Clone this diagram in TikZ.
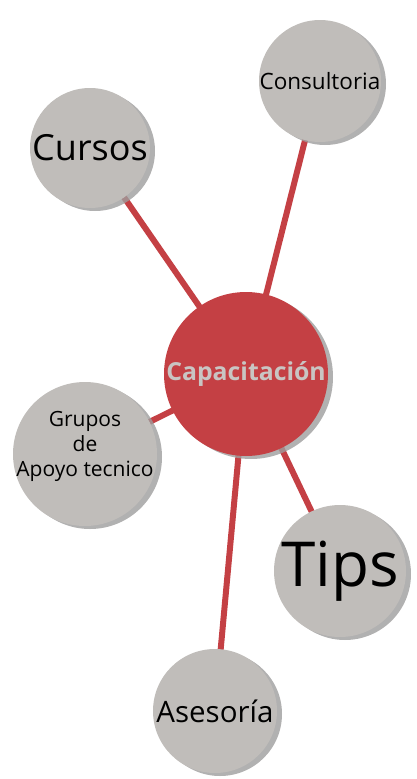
\documentclass[tikz,border=0pt]{standalone}
\usepackage{fontspec}
\setmainfont{Open Sans}
\usetikzlibrary{shadows,backgrounds}

\definecolor{rojo}{HTML}{C44044}
\definecolor{gris}{HTML}{C0BDBA}
\definecolor{sombra}{HTML}{9E9D9D}
\definecolor{letra}{HTML}{C9C5C3}

\tikzset{
  burbuja/.style={circle,fill=gris,inner sep=0pt,align=center,
    drop shadow={shadow xshift=5pt,shadow yshift=-3pt,fill=sombra,opacity=0.8}},
  rama/.style={rojo,line width=6pt}
}

\begin{document}
\begin{tikzpicture}[x=1pt,y=-1pt]
                    \useasboundingbox (0,0) rectangle (416,779);
                    \node[burbuja,fill=rojo,minimum size=164pt,text=letra,font=\bfseries\fontsize{24.8}{25}\selectfont] (C) at (246,374) {Capacitación};
                    \node[burbuja,minimum size=120pt,font=\fontsize{36}{36}\selectfont] (K) at (90,148) {Cursos};
                    \node[burbuja,minimum size=122pt,font=\fontsize{22.5}{23}\selectfont] (N) at (320,81) {Consultoria};
                    \node[burbuja,minimum size=144pt,inner sep=-11pt,font=\fontsize{21}{25}\selectfont] (G) at (85,454) {Grupos\\de\\Apoyo tecnico\\[-5pt]};
                    \node[burbuja,minimum size=130pt,font=\fontsize{62}{62}\selectfont] (T) at (340,571) {Tips};
                    \node[burbuja,minimum size=124pt,font=\fontsize{29.5}{30}\selectfont] (A) at (215,711) {Asesoría};
                    \begin{scope}[on background layer]
                    \draw[rama] (C.center) -- (K.center);
                    \draw[rama] (C.center) -- (N.center);
                    \draw[rama] (C.center) -- (G.center);
                    \draw[rama] (C.center) -- (T.center);
                    \draw[rama] (C.center) -- (A.center);
                    \end{scope}
                \end{tikzpicture}
\end{document}
